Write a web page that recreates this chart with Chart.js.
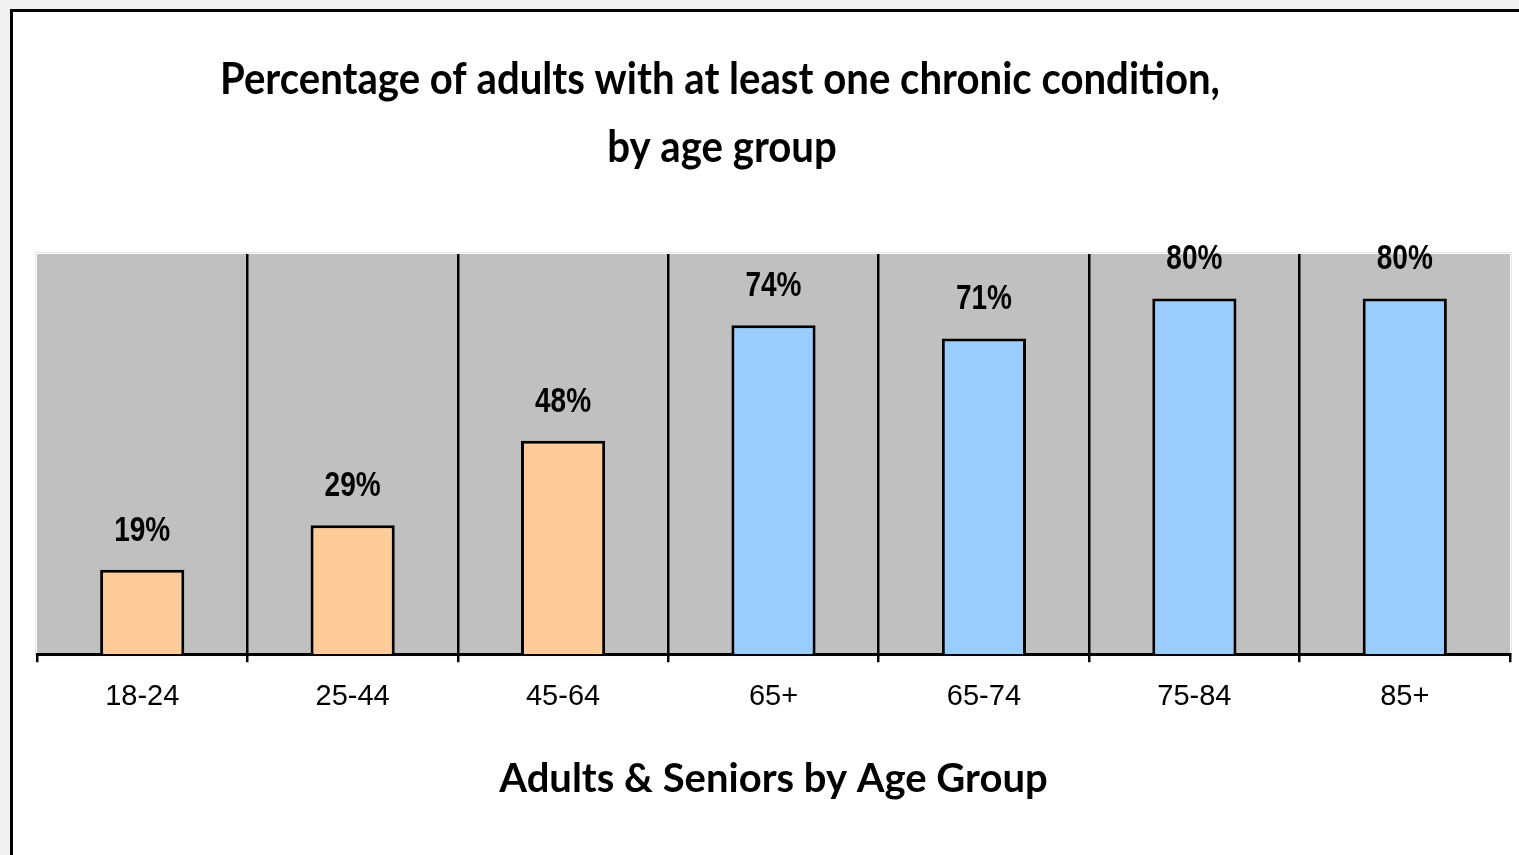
<!DOCTYPE html>
<html>
<head>
<meta charset="utf-8">
<script src="https://cdn.jsdelivr.net/npm/chart.js@4.4.1/dist/chart.umd.min.js"></script>
<style>
  html, body { margin: 0; padding: 0; background: #f0f0f0; overflow: hidden; }
  #frame { position: absolute; left: 10px; top: 9px; width: 1520px; height: 860px; background: #fff;
           border-left: 3px solid #000; border-top: 3px solid #000; }
  #wrap { position: absolute; left: 0; top: 0; width: 1506px; height: 843px; }
</style>
</head>
<body>
<div id="frame"><div id="wrap"><canvas id="c"></canvas></div></div>
<script>
const categories = ['18-24', '25-44', '45-64', '65+', '65-74', '75-84', '85+'];
const values = [19, 29, 48, 74, 71, 80, 80];
const barColors = ['#FFCC99', '#FFCC99', '#FFCC99', '#99CCFF', '#99CCFF', '#99CCFF', '#99CCFF'];
const titleLines = ['Percentage of adults with at least one chronic condition,', 'by age group'];
const xTitle = 'Adults & Seniors by Age Group';

const titleFont = 'bold 44px Lato';
const plotBg = {
  id: 'plotBg',
  beforeDraw(chart) {
    const { ctx, chartArea: a } = chart;
    ctx.save();
    ctx.fillStyle = '#C0C0C0';
    ctx.fillRect(a.left, a.top, a.right - a.left, a.bottom - a.top);
    ctx.strokeStyle = '#e4e4e4';
    ctx.lineWidth = 1;
    ctx.strokeRect(a.left - 1.5, a.top - 1.5, a.right - a.left + 3, a.bottom - a.top + 3);
    ctx.restore();
  }
};
const mainTitle = {
  id: 'mainTitle',
  afterDraw(chart) {
    const ctx = chart.ctx;
    ctx.save();
    ctx.font = titleFont;
    ctx.fillStyle = '#000';
    ctx.textAlign = 'center';
    ctx.textBaseline = 'alphabetic';
    const targets = [[707, 82], [709, 150]];
    const w0 = ctx.measureText(titleLines[0]).width;
    const sx = 1000 / w0;
    titleLines.forEach((t, i) => {
      ctx.save();
      ctx.translate(targets[i][0], targets[i][1]);
      ctx.scale(sx, 1);
      ctx.fillText(t, 0, 0);
      ctx.restore();
    });
    ctx.restore();
  }
};
const valueLabels = {
  id: 'valueLabels',
  afterDatasetsDraw(chart) {
    const ctx = chart.ctx;
    const meta = chart.getDatasetMeta(0);
    ctx.save();
    ctx.font = 'bold 35px "Liberation Sans", Arial, sans-serif';
    ctx.fillStyle = '#000';
    ctx.textAlign = 'center';
    ctx.textBaseline = 'alphabetic';
    meta.data.forEach((bar, i) => {
      ctx.save();
      ctx.translate(bar.x, bar.y - 29);
      ctx.scale(0.8, 1);
      ctx.fillText(values[i] + '%', 0, 0);
      ctx.restore();
    });
    ctx.restore();
  }
};

new Chart(document.getElementById('c'), {
  type: 'bar',
  data: {
    labels: categories,
    datasets: [{
      data: values,
      backgroundColor: barColors,
      borderColor: '#000',
      borderWidth: 3,
      borderSkipped: 'bottom',
      barPercentage: 0.4,
      categoryPercentage: 1.0
    }]
  },
  options: {
    responsive: true,
    maintainAspectRatio: false,
    animation: false,
    layout: { padding: { left: 24, right: 9, top: 242, bottom: 52 } },
    plugins: { legend: { display: false }, title: { display: false }, tooltip: { enabled: false } },
    scales: {
      x: {
        offset: true,
        grid: {
          offset: true,
          lineWidth: 2.5,
          color: (c) => (c.type !== 'tick' || c.index === 0) ? 'rgba(0,0,0,0)' : '#000',
          tickColor: '#000',
          tickLength: 8,
          drawOnChartArea: true
        },
        border: { display: true, color: '#000', width: 3 },
        ticks: { color: '#000', padding: 17, font: { family: '"Liberation Sans", Arial, sans-serif', size: 29 } },
        title: { display: true, text: xTitle, color: '#000', font: { family: 'Lato', weight: 'bold', size: 40 }, padding: { top: 24, bottom: 0 } }
      },
      y: { display: false, min: 0, max: 90 }
    }
  },
  plugins: [plotBg, mainTitle, valueLabels]
});
</script>
</body>
</html>
